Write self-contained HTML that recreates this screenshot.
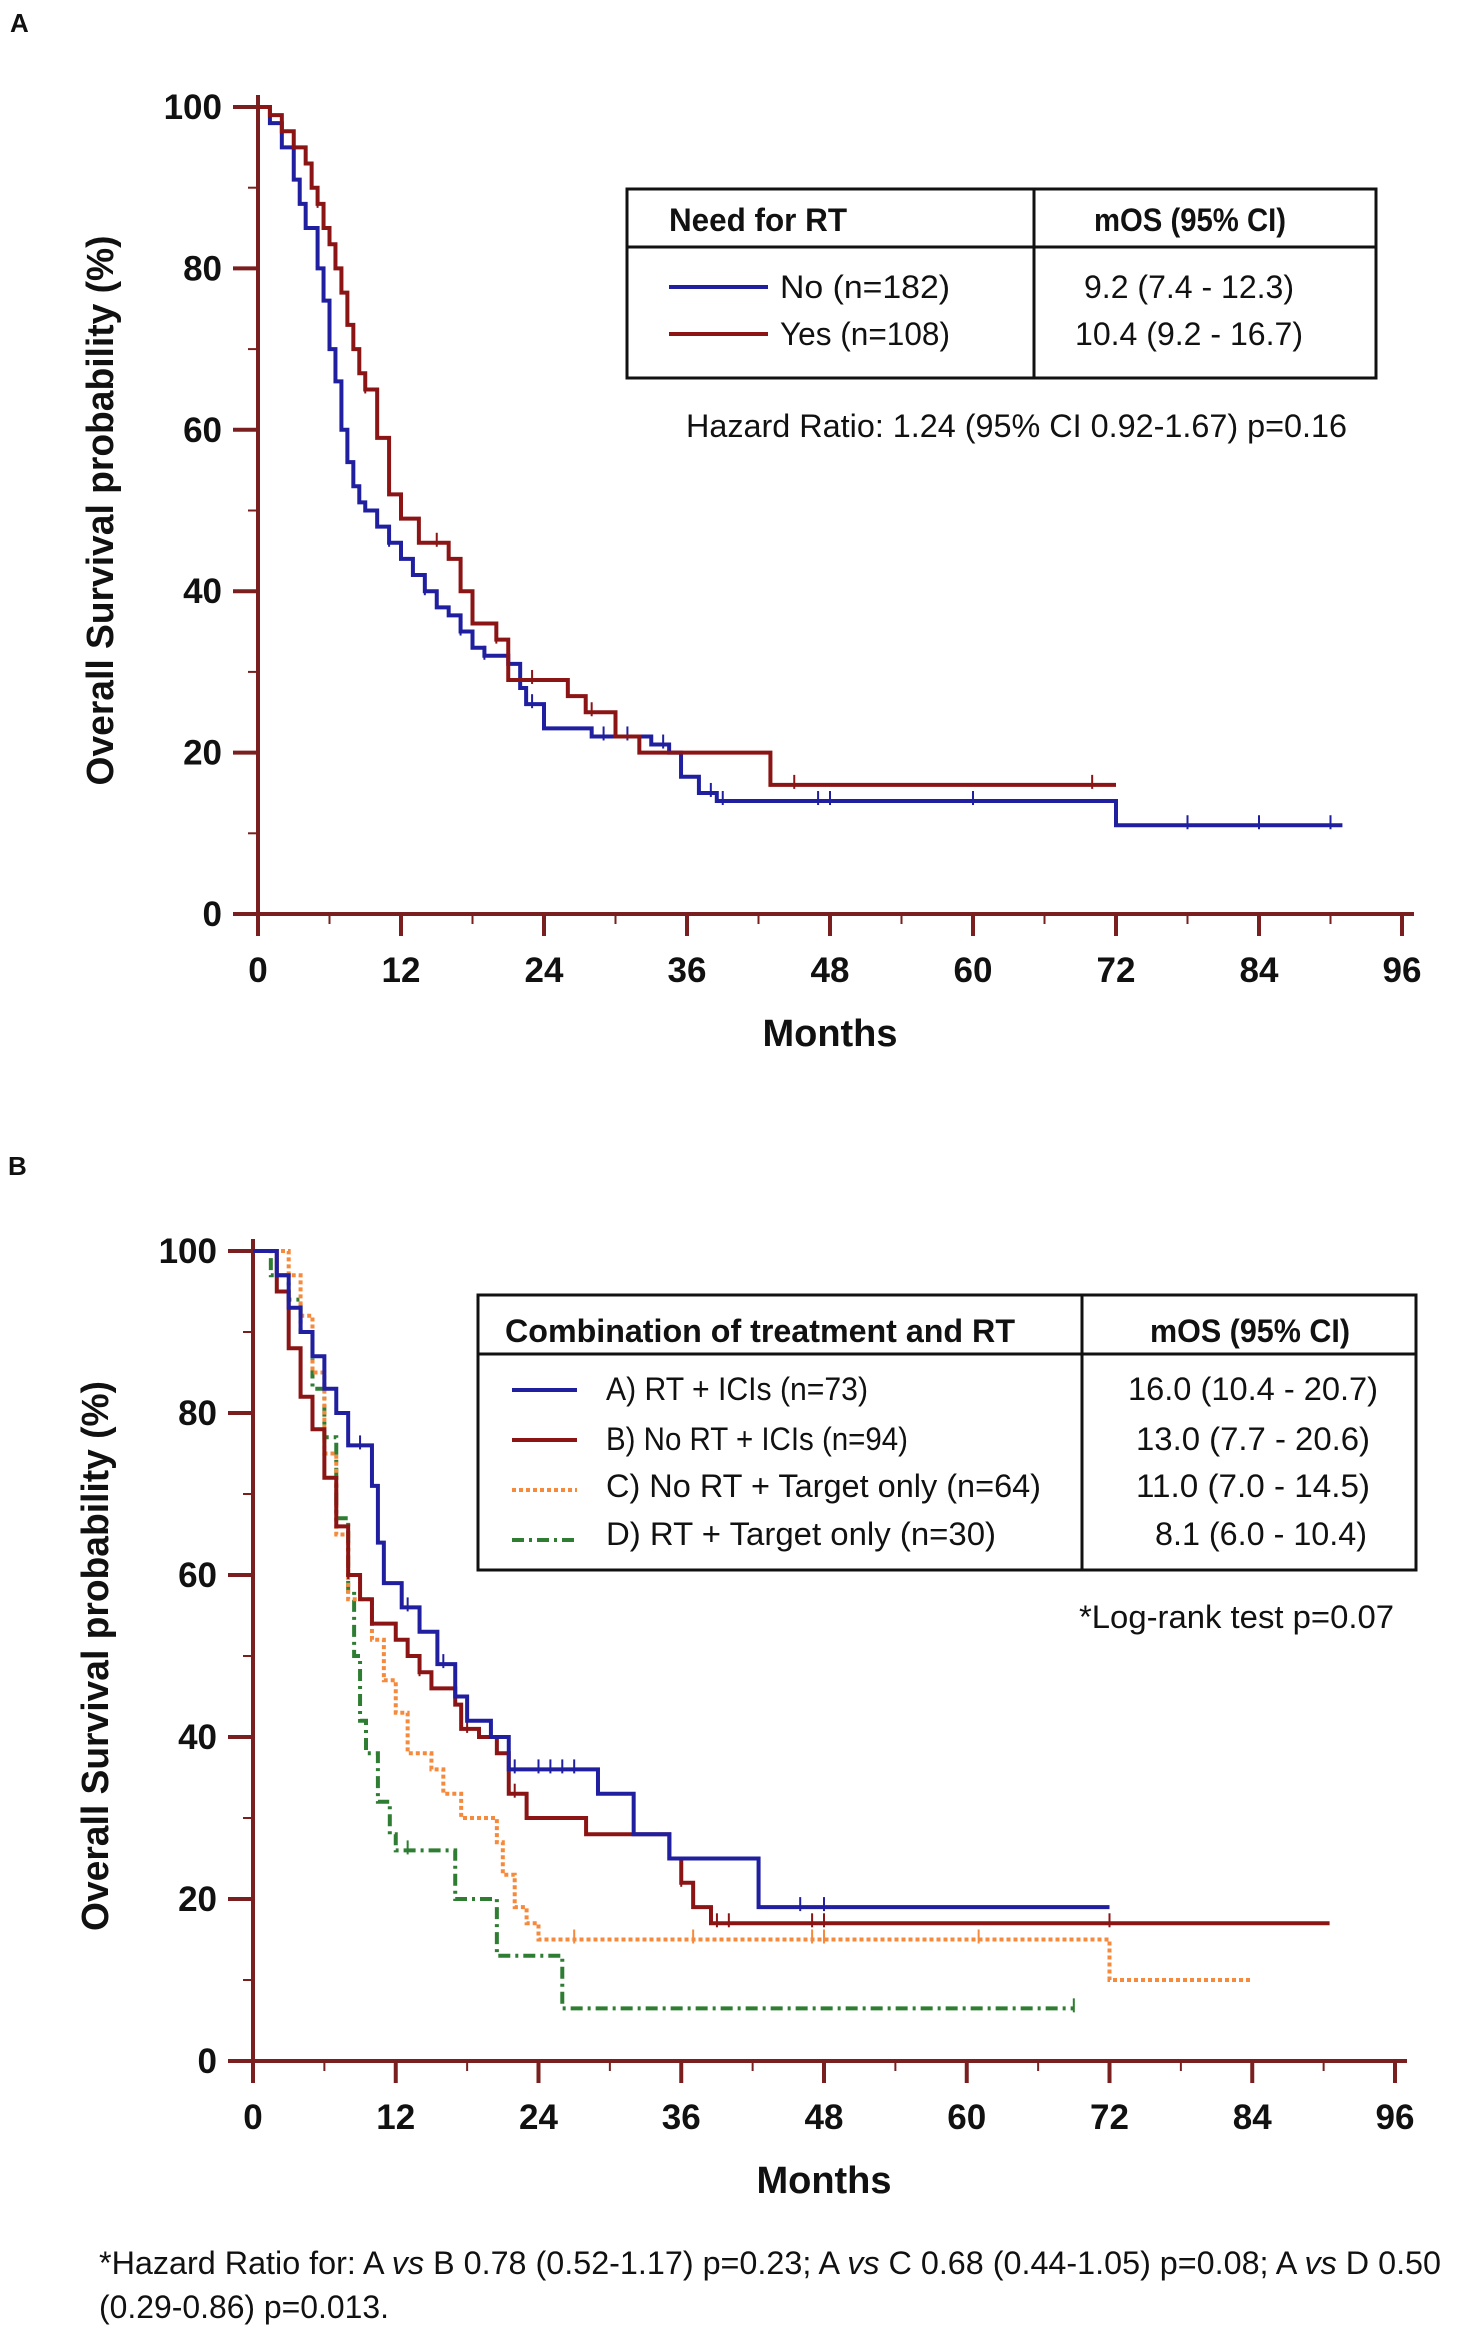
<!DOCTYPE html>
<html><head><meta charset="utf-8"><style>
html,body{margin:0;padding:0;background:#fff}
svg{display:block}
text{font-family:"Liberation Sans",sans-serif;fill:#111}
.tk{font-weight:bold;font-size:35px}
.ttl{font-weight:bold;font-size:38px}
.lg{font-size:32px}
</style></head><body>
<svg id="fig" width="1466" height="2339" viewBox="0 0 1466 2339" xmlns="http://www.w3.org/2000/svg">
<text x="10" y="32" style="font-weight:bold;font-size:26px">A</text>
<text x="8" y="1175" style="font-weight:bold;font-size:26px">B</text>
<g id="pa"></g>
<g id="pb"></g>

<!-- Panel A legend -->
<g>
<rect x="627" y="189" width="749" height="189" fill="#fff" stroke="#111" stroke-width="3"/>
<line x1="627" y1="247" x2="1376" y2="247" stroke="#111" stroke-width="3"/>
<line x1="1034" y1="189" x2="1034" y2="378" stroke="#111" stroke-width="3"/>
<text x="669" y="231" class="lg" style="font-weight:bold" textLength="178" lengthAdjust="spacingAndGlyphs">Need for RT</text>
<text x="1190" y="231" class="lg" style="font-weight:bold" text-anchor="middle" textLength="192" lengthAdjust="spacingAndGlyphs">mOS (95% CI)</text>
<line x1="669" y1="287" x2="768" y2="287" stroke="#1f1fa0" stroke-width="4"/>
<line x1="669" y1="334" x2="768" y2="334" stroke="#8b1414" stroke-width="4"/>
<text x="780" y="298" class="lg" textLength="170" lengthAdjust="spacingAndGlyphs">No  (n=182)</text>
<text x="780" y="345" class="lg" textLength="170" lengthAdjust="spacingAndGlyphs">Yes (n=108)</text>
<text x="1189" y="298" class="lg" text-anchor="middle" textLength="210" lengthAdjust="spacingAndGlyphs">9.2 (7.4 - 12.3)</text>
<text x="1189" y="345" class="lg" text-anchor="middle" textLength="228" lengthAdjust="spacingAndGlyphs">10.4 (9.2 - 16.7)</text>
</g>
<text x="686" y="437" class="lg" textLength="661" lengthAdjust="spacingAndGlyphs">Hazard Ratio:  1.24 (95% CI 0.92-1.67) p=0.16</text>

<!-- Panel B legend -->
<g>
<rect x="478" y="1295" width="938" height="275" fill="#fff" stroke="#111" stroke-width="3"/>
<line x1="478" y1="1354" x2="1416" y2="1354" stroke="#111" stroke-width="3"/>
<line x1="1082" y1="1295" x2="1082" y2="1570" stroke="#111" stroke-width="3"/>
<text x="505" y="1342" class="lg" style="font-weight:bold" textLength="510" lengthAdjust="spacingAndGlyphs">Combination of treatment and RT</text>
<text x="1250" y="1342" class="lg" style="font-weight:bold" text-anchor="middle" textLength="200" lengthAdjust="spacingAndGlyphs">mOS (95% CI)</text>
<line x1="512" y1="1390" x2="577" y2="1390" stroke="#1f1fa0" stroke-width="4"/>
<line x1="512" y1="1440" x2="577" y2="1440" stroke="#8b1414" stroke-width="4"/>
<line x1="512" y1="1490" x2="577" y2="1490" stroke="#f58a3c" stroke-width="4" stroke-dasharray="4 3"/>
<line x1="512" y1="1540" x2="577" y2="1540" stroke="#2e7d32" stroke-width="4" stroke-dasharray="12 5 3 5"/>
<text x="606" y="1400" class="lg" textLength="262" lengthAdjust="spacingAndGlyphs">A)  RT + ICIs (n=73)</text>
<text x="606" y="1450" class="lg" textLength="302" lengthAdjust="spacingAndGlyphs">B)  No RT + ICIs (n=94)</text>
<text x="606" y="1497" class="lg" textLength="435" lengthAdjust="spacingAndGlyphs">C)  No RT + Target only (n=64)</text>
<text x="606" y="1545" class="lg" textLength="390" lengthAdjust="spacingAndGlyphs">D)  RT + Target only (n=30)</text>
<text x="1253" y="1400" class="lg" text-anchor="middle" textLength="250" lengthAdjust="spacingAndGlyphs">16.0 (10.4 - 20.7)</text>
<text x="1253" y="1450" class="lg" text-anchor="middle" textLength="234" lengthAdjust="spacingAndGlyphs">13.0 (7.7 - 20.6)</text>
<text x="1253" y="1497" class="lg" text-anchor="middle" textLength="234" lengthAdjust="spacingAndGlyphs">11.0 (7.0 - 14.5)</text>
<text x="1261" y="1545" class="lg" text-anchor="middle" textLength="212" lengthAdjust="spacingAndGlyphs">8.1 (6.0 - 10.4)</text>
</g>
<text x="1079" y="1628" class="lg" textLength="315" lengthAdjust="spacingAndGlyphs">*Log-rank test p=0.07</text>
<text x="99" y="2274" class="lg" textLength="1342" lengthAdjust="spacingAndGlyphs">*Hazard Ratio for: A <tspan font-style="italic">vs</tspan> B 0.78 (0.52-1.17) p=0.23; A <tspan font-style="italic">vs</tspan> C 0.68 (0.44-1.05) p=0.08; A <tspan font-style="italic">vs</tspan> D 0.50</text>
<text x="99" y="2318" class="lg" textLength="290" lengthAdjust="spacingAndGlyphs">(0.29-0.86) p=0.013.</text>
</svg>
<script>
const xTicks = [0,12,24,36,48,60,72,84,96];
const yTicks = [0,20,40,60,80,100];
// Panel A data: step times (months) and survival (%) after each step
const aNoT = [0,1,2,3,3.5,4,5,5.5,6,6.5,7,7.5,8,8.5,9,10,11,12,13,14,15,16,17,18,19,21,22,22.5,24,28,33,34.5,35.5,37,38.5,72,91];
const aNoS = [100,98,95,91,88,85,80,76,70,66,60,56,53,51,50,48,46,44,42,40,38,37,35,33,32,31,28,26,23,22,21,20,17,15,14,11,11];
const aYesT = [0,1,2,3,4,4.5,5,5.5,6,6.5,7,7.5,8,8.5,9,10,11,12,13.5,16,17,18,20,21,26,27.5,30,32,43,72];
const aYesS = [100,99,97,95,93,90,88,85,83,80,77,73,70,67,65,59,52,49,46,44,40,36,34,29,27,25,22,20,16,16];
const aNoCens = [11,14,17,19,23,29,31,34,38,39,47,48,60,78,84,90];
const aYesCens = [5,9,15,20,23,28,45,70];
// Panel B data
const bAT = [0,2,3,4,5,6,7,8,10,10.5,11,12.5,14,15.5,17,18,20,21.5,27,29,32,35,42.5,72];
const bAS = [100,97,93,90,87,83,80,76,71,64,59,56,53,49,45,42,40,36,36,33,28,25,19,19];
const bBT = [0,2,3,4,5,6,7,8,9,10,12,13,14,15,17,17.5,19,20.5,21.5,23,28,35,36,37,38.5,90.5];
const bBS = [100,95,88,82,78,72,66,60,57,54,52,50,48,46,44,41,40,38,33,30,28,25,22,19,17,17];
const bCT = [0,2.5,3,4,5,6,7,8,10,11,12,13,15,16,17.5,20.5,21,22,23,24,24.5,72,84];
const bCS = [100,100,97,92,85,75,65,57,52,47,43,38,36,33,30,27,23,19,17,15,15,10,10];
const bDT = [0,1.5,3,4,5,6,7,8,8.5,9,9.5,10.5,11.5,12,17,20.5,26,69];
const bDS = [100,97,94,90,83,77,67,58,50,42,38,32,28,26,20,13,6.5,6.5];
const bACens = [9,13,16,22,24,25,26,27,46,48];
const bBCens = [8,14,18,22,36,39,40,47,48,72];
const bCCens = [27,37,47,48,61];
const bDCens = [13,69];

const NS='http://www.w3.org/2000/svg';
function mk(tag, attrs, parent){const e=document.createElementNS(NS,tag);for(const k in attrs)e.setAttribute(k,attrs[k]);parent.appendChild(e);return e;}
const AX='#7a1f1f';

function stepVal(T,S,t){let v=S[0];for(let i=0;i<T.length;i++){if(T[i]<=t)v=S[i];}return v;}

function drawPanel(g, x0, x96, y0, y100, series){
  const sx = m => x0 + (x96-x0)*m/96;
  const sy = p => y0 - (y0-y100)*p/100;
  let e=mk('line',{x1:x0,y1:y100-12,x2:x0,y2:y0,stroke:AX,'stroke-width':4},g);
   
  e=mk('line',{x1:x0-25,y1:y0,x2:sx(96)+12,y2:y0,stroke:AX,'stroke-width':4},g);
   
  for(const t of yTicks){
    mk('line',{x1:x0-25,y1:sy(t),x2:x0,y2:sy(t),stroke:AX,'stroke-width':4},g);
    const tx=mk('text',{x:x0-36,y:sy(t)+12,'text-anchor':'end',class:'tk'},g);
    tx.textContent=t;
     
  }
  for(let t=10;t<100;t+=20) mk('line',{x1:x0-10,y1:sy(t),x2:x0,y2:sy(t),stroke:AX,'stroke-width':2},g);
  for(const t of xTicks){
    mk('line',{x1:sx(t),y1:y0,x2:sx(t),y2:y0+22,stroke:AX,'stroke-width':4},g);
    const tx=mk('text',{x:sx(t),y:y0+68,'text-anchor':'middle',class:'tk'},g);
    tx.textContent=t;
     
  }
  for(let t=6;t<96;t+=12) mk('line',{x1:sx(t),y1:y0,x2:sx(t),y2:y0+10,stroke:AX,'stroke-width':2},g);
  const xt=mk('text',{x:(x0+sx(96))/2,y:y0+132,'text-anchor':'middle',class:'ttl'},g);
  xt.textContent='Months';
   
  const yc=(y0+y100)/2;
  const yt=mk('text',{x:x0-145,y:yc,'text-anchor':'middle',class:'ttl',transform:`rotate(-90 ${x0-145} ${yc})`,textLength:550,lengthAdjust:'spacingAndGlyphs'},g);
  yt.textContent='Overall Survival probability (%)';
   
  for(const s of series){
    let d=`M${sx(s.T[0])},${sy(s.S[0])}`;
    for(let i=1;i<s.T.length;i++){d+=` H${sx(s.T[i])} V${sy(s.S[i])}`;}
    const p=mk('path',{d:d,fill:'none',stroke:s.c,'stroke-width':4,'stroke-dasharray':s.dash||'none'},g);
     
    for(const c of s.cens){
      const v=stepVal(s.T,s.S,c);
      const m=mk('line',{x1:sx(c),y1:sy(v)-10,x2:sx(c),y2:sy(v)+4,stroke:s.c,'stroke-width':2},g);
       
    }
  }
}
drawPanel(document.getElementById('pa'),258,1402,914,107,[
  {T:aNoT,S:aNoS,c:'#1f1fa0',cens:aNoCens,name:'curve-no-rt'},
  {T:aYesT,S:aYesS,c:'#8b1414',cens:aYesCens,name:'curve-yes-rt'}
]);
drawPanel(document.getElementById('pb'),253,1395,2061,1251,[
  {T:bDT,S:bDS,c:'#2e7d32',dash:'12 5 3 5',cens:bDCens,name:'curve-d-rt-target'},
  {T:bCT,S:bCS,c:'#f58a3c',dash:'4 3',cens:bCCens,name:'curve-c-nort-target'},
  {T:bBT,S:bBS,c:'#8b1414',cens:bBCens,name:'curve-b-nort-icis'},
  {T:bAT,S:bAS,c:'#1f1fa0',cens:bACens,name:'curve-a-rt-icis'}
]);
</script>
</body></html>
